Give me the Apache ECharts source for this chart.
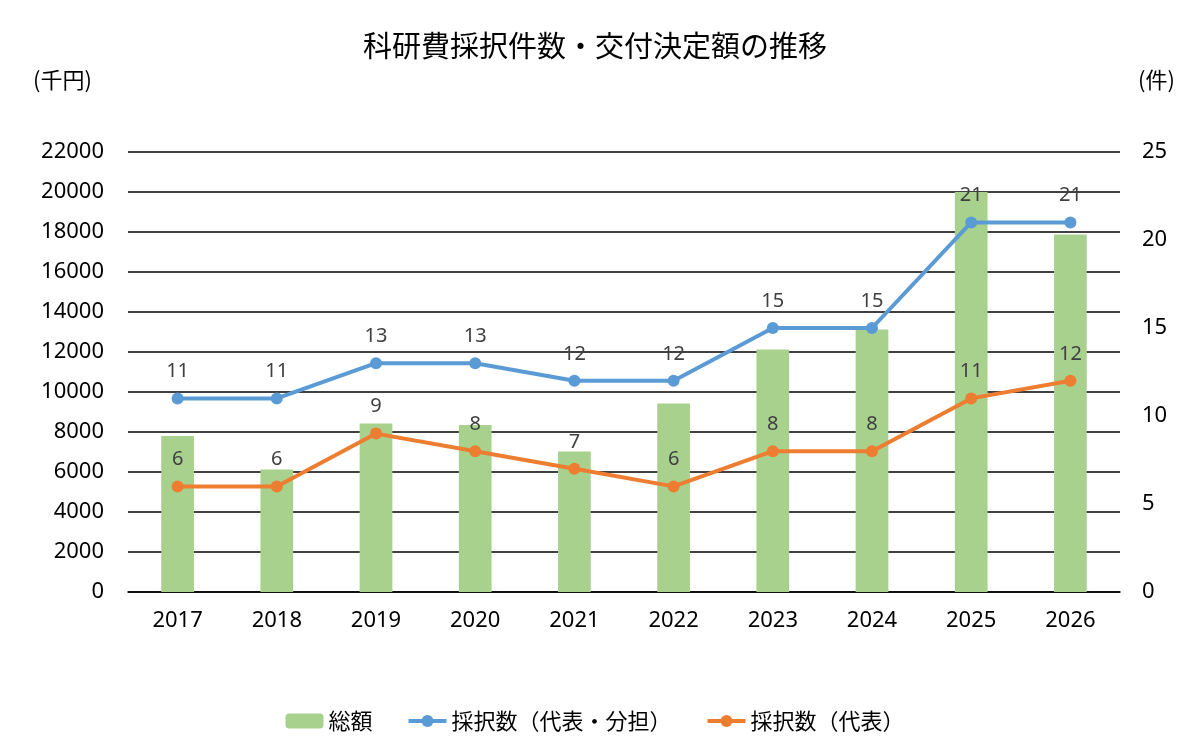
<!DOCTYPE html>
<html>
<head>
<meta charset="utf-8">
<script src="https://cdn.jsdelivr.net/npm/echarts@6/dist/echarts.min.js"></script>
<style>
* { margin: 0; padding: 0; }
#chart { width: 1190px; height: 755px; background: #fff; }
</style>
</head>
<body>
<div id="chart"></div>
<script>
const years = ['2017', '2018', '2019', '2020', '2021', '2022', '2023', '2024', '2025', '2026'];
// 総額（千円）
const totalAmount = [7800, 6130, 8430, 8350, 7030, 9430, 12130, 13130, 20000, 17880];
// 採択数（代表・分担）
const countAll = [11, 11, 13, 13, 12, 12, 15, 15, 21, 21];
// 採択数（代表）
const countRep = [6, 6, 9, 8, 7, 6, 8, 8, 11, 12];

const jpFont = '"Noto Sans CJK JP", "Noto Sans", sans-serif';
const numFont = '"Noto Sans", "Noto Sans CJK JP", sans-serif';
const chart = echarts.init(document.getElementById('chart'));

const lineLabel = {
    show: true,
    position: 'top',
    distance: 11,
    fontSize: 20,
    color: '#404040',
    fontFamily: numFont
};

chart.setOption({
    backgroundColor: '#ffffff',
    textStyle: { fontFamily: jpFont },
    title: [{
        text: '科研費採択件数・交付決定額の推移',
        left: 'center',
        top: 26,
        textStyle: { fontSize: 29, fontWeight: 'normal', color: '#000', fontFamily: jpFont }
    }, {
        text: '(千円)',
        left: 28,
        top: 64,
        textStyle: { fontSize: 22, fontWeight: 'normal', color: '#000', fontFamily: jpFont }
    }, {
        text: '(件)',
        left: 1133,
        top: 64,
        textStyle: { fontSize: 22, fontWeight: 'normal', color: '#000', fontFamily: jpFont }
    }],
    legend: {
        bottom: 18,
        left: 'center',
        itemGap: 34,
        itemWidth: 38,
        itemHeight: 15,
        textStyle: { fontSize: 22, color: '#000', fontFamily: jpFont },
        lineStyle: { width: 4 },
        data: ['総額', '採択数（代表・分担）', '採択数（代表）']
    },
    grid: { left: 128, right: 70, top: 152, bottom: 163 },
    xAxis: {
        type: 'category',
        data: years,
        axisTick: { show: false },
        axisLine: { lineStyle: { color: '#000', width: 1.5 } },
        axisLabel: { fontSize: 22, color: '#000', margin: 18, fontFamily: numFont }
    },
    yAxis: [{
        type: 'value',
        min: 0,
        max: 22000,
        interval: 2000,
        axisLine: { show: false },
        axisTick: { show: false },
        axisLabel: { fontSize: 22, color: '#000', margin: 24, fontFamily: numFont, formatter: (v) => String(v) },
        splitLine: { lineStyle: { color: '#000', width: 1.5 } }
    }, {
        type: 'value',
        min: 0,
        max: 25,
        interval: 5,
        axisLine: { show: false },
        axisTick: { show: false },
        axisLabel: { fontSize: 22, color: '#000', margin: 22, fontFamily: numFont },
        splitLine: { show: false }
    }],
    series: [{
        name: '総額',
        type: 'bar',
        data: totalAmount,
        barWidth: '33%',
        itemStyle: { color: '#A9D18E' }
    }, {
        name: '採択数（代表・分担）',
        type: 'line',
        yAxisIndex: 1,
        data: countAll,
        symbol: 'circle',
        symbolSize: 12,
        lineStyle: { color: '#5B9BD5', width: 4 },
        itemStyle: { color: '#5B9BD5' },
        label: lineLabel
    }, {
        name: '採択数（代表）',
        type: 'line',
        yAxisIndex: 1,
        data: countRep,
        symbol: 'circle',
        symbolSize: 12,
        lineStyle: { color: '#ED7D31', width: 4 },
        itemStyle: { color: '#ED7D31' },
        label: lineLabel
    }]
});
</script>
</body>
</html>
